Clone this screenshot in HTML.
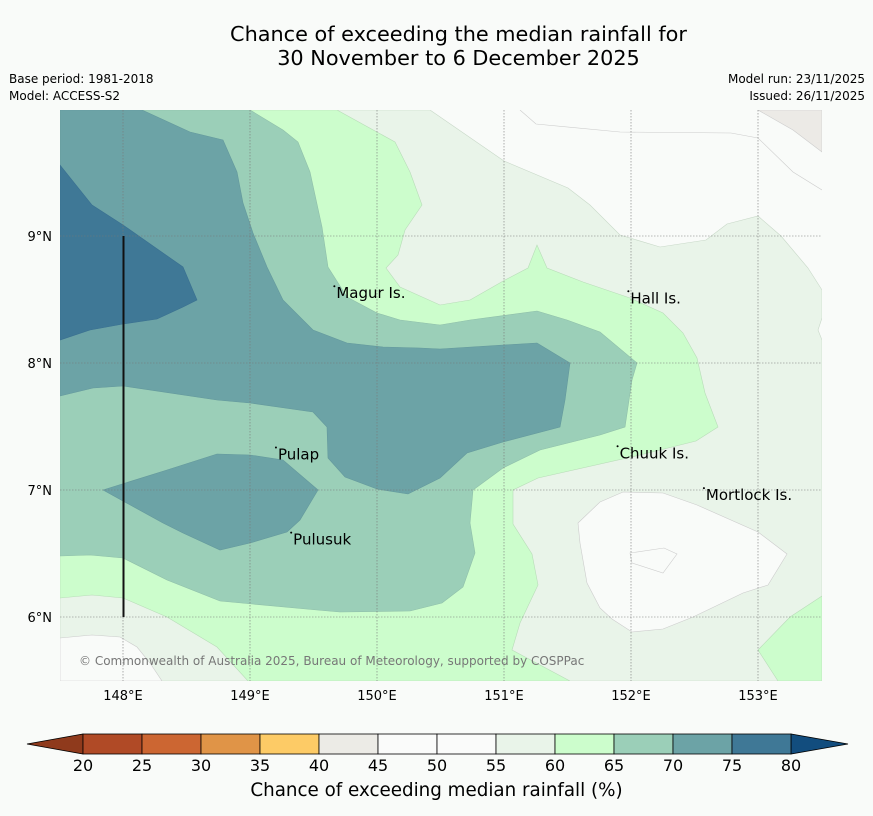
<!DOCTYPE html>
<html><head><meta charset="utf-8">
<style>
body{margin:0;background:#f9fbf9;font-family:"DejaVu Sans","Liberation Sans",sans-serif;}
#wrap{position:relative;width:873px;height:816px;overflow:hidden;background:#f9fbf9;}
.t{position:absolute;white-space:nowrap;color:#000;}
</style></head>
<body>
<div id="wrap">
<div class="t" style="left:0;width:917px;top:22px;text-align:center;font-size:20.8px;line-height:24px;">Chance of exceeding the median rainfall for<br>30 November to 6 December 2025</div>
<div class="t" style="left:9px;top:72px;font-size:12px;">Base period: 1981-2018</div>
<div class="t" style="left:9px;top:89px;font-size:12px;">Model: ACCESS-S2</div>
<div class="t" style="right:8px;top:72px;font-size:12px;">Model run: 23/11/2025</div>
<div class="t" style="right:8px;top:89px;font-size:12px;">Issued: 26/11/2025</div>
<svg id="svg" width="873" height="816" style="position:absolute;left:0;top:0">
<defs><clipPath id="mc"><rect x="60" y="110" width="762" height="571"/></clipPath></defs>
<g clip-path="url(#mc)" stroke-width="0.6">
<rect x="60" y="110" width="762" height="571" fill="#f9fbf9"/>
<polygon fill="#eceae6" stroke="#ccc" points="758,110 822,110 822,152 793,130"/>
<polyline fill="none" stroke="#ccc" points="520,110 536,124 620,132 731,133 758,138 793,172 822,190"/>
<polygon fill="#e9f4e9" stroke="#c8d8c8" points="60,110 430,110 504,161 568,188 590,205 620,235 660,247 706,240 727,224 758,216 781,236 808,268 822,290 822,318 818,330 822,340 822,681 60,681"/>
<polygon fill="#f9fbf9" stroke="#ccc" points="60,638 92,635 120,637 137,647 150,663 162,681 60,681"/>
<polygon fill="#f9fbf9" stroke="#ccc" points="578,523 600,502 623,492 663,493 697,505 758,532 787,554 768,585 743,593 693,617 663,629 632,632 612,619 600,608 587,583 580,543"/>
<polygon fill="none" stroke="#ccc" points="630,553 664,548 677,554 663,573 632,563"/>
<polygon fill="#ccfdcc" stroke="#b8dcb8" points="758,650 790,617 822,596 822,681 778,681"/>
<polygon fill="#ccfdcc" stroke="#b8dcb8" points="60,110 337,110 395,142 410,172 422,205 405,230 398,255 386,268 400,287 440,305 470,300 505,280 528,268 537,245 547,268 583,282 630,298 663,313 683,333 697,358 705,393 718,427 696,441 640,455 538,478 513,490 513,524 532,554 538,585 520,623 512,650 570,681 248,681 217,647 167,617 123,598 92,595 60,598"/>
<polygon fill="#9bcfb8" stroke="#8fbfa9" points="60,110 250,110 283,130 298,142 310,172 322,227 328,267 347,297 377,313 400,320 440,325 470,320 537,311 567,320 600,332 637,363 632,380 625,427 600,435 540,450 503,468 473,490 470,523 475,553 463,587 442,603 410,611 340,612 317,610 220,601 167,580 123,558 90,555 60,556"/>
<polygon fill="#6ca3a6" stroke="#64999c" points="60,110 142,110 190,132 223,140 237,172 243,203 253,233 267,267 283,300 313,330 347,343 383,347 420,348 440,349 537,343 570,363 565,400 560,427 503,442 467,453 440,478 408,494 377,489 345,477 328,458 327,427 313,412 250,403 217,400 123,386 93,388 60,396"/>
<polygon fill="#6ca3a6" stroke="#64999c" points="103,490 167,470 217,454 250,455 283,460 318,490 300,520 287,532 250,543 220,550 183,533 163,523"/>
<polygon fill="#3f7896" stroke="#3a7090" points="60,165 92,205 123,225 183,267 197,300 183,307 157,319 123,324 90,330 60,340"/>
<g id="grid"></g>
<line x1="123.5" y1="236" x2="123.5" y2="617" stroke="#111" stroke-width="2"/>
<text x="79" y="665" font-size="12" fill="#777" font-family="DejaVu Sans, Liberation Sans, sans-serif">© Commonwealth of Australia 2025, Bureau of Meteorology, supported by COSPPac</text>
</g>
<g id="labels" font-family="DejaVu Sans, Liberation Sans, sans-serif" font-size="15" fill="#000"></g>
<g id="axes" font-family="DejaVu Sans, Liberation Sans, sans-serif" font-size="13" fill="#000"></g>
<g id="cbar"></g>
</svg>
<div class="t" style="left:0;width:873px;text-align:center;top:780px;font-size:18.3px;">Chance of exceeding median rainfall (%)</div>
</div>
<script>
const lonTicks=[148,149,150,151,152,153];
const latTicks=[9,8,7,6];
const cbLevels=[20,25,30,35,40,45,50,55,60,65,70,75,80];
const cbColors=["#b04a26","#cc6632","#e09447","#fdcb66","#ecebe6","#fafbfa","#fafbfa","#e9f4e9","#ccfdcc","#9bcfb8","#6ca3a6","#3f7896"];
const cbUnder="#8f3a1c", cbOver="#124d7e";
const places=["Magur Is.","Hall Is.","Pulap","Chuuk Is.","Mortlock Is.","Pulusuk"];
const placeLon=[149.68,151.995,149.22,151.91,152.59,149.34];
const placeLat=[8.51,8.47,7.24,7.25,6.92,6.57];

const NS='http://www.w3.org/2000/svg';
const xLon=l=>123+(l-148)*127, yLat=a=>236+(9-a)*127;
function mk(tag,at,parent){const e=document.createElementNS(NS,tag);for(const k in at)e.setAttribute(k,at[k]);parent.appendChild(e);return e;}
const grid=document.getElementById('grid'), axes=document.getElementById('axes'), lab=document.getElementById('labels'), cb=document.getElementById('cbar');
lonTicks.forEach(l=>{
  const ln=mk('line',{x1:xLon(l),x2:xLon(l),y1:110,y2:681,stroke:'#777','stroke-width':0.6,'stroke-dasharray':'1.5,1.5'},grid);
  
  
  const t=mk('text',{x:xLon(l),y:700,'text-anchor':'middle'},axes);t.textContent=l+'°E';
  
  
});
latTicks.forEach(a=>{
  const ln=mk('line',{x1:60,x2:822,y1:yLat(a),y2:yLat(a),stroke:'#777','stroke-width':0.6,'stroke-dasharray':'1.5,1.5'},grid);
  
  
  const t=mk('text',{x:52,y:yLat(a)+5,'text-anchor':'end'},axes);t.textContent=a+'°N';
  
  
});
places.forEach((p,i)=>{
  const x=xLon(placeLon[i]), y=yLat(placeLat[i]);
  const d=mk('circle',{cx:x-2,cy:y-12,r:1,fill:'#000'},lab);
  
  
  const t=mk('text',{x:x,y:y},lab);t.textContent=p;
  
  
});
const cx0=83, cx1=791, cy=734, ch=20, step=(cx1-cx0)/(cbLevels.length-1);
const tu=mk('polygon',{points:`${cx0},${cy} ${cx0},${cy+ch} 27,${cy+ch/2}`,fill:cbUnder,stroke:'#000','stroke-width':0.8},cb);


const to=mk('polygon',{points:`${cx1},${cy} ${cx1},${cy+ch} 848,${cy+ch/2}`,fill:cbOver,stroke:'#000','stroke-width':0.8},cb);


cbColors.forEach((c,i)=>{
  const r=mk('rect',{x:cx0+i*step,y:cy,width:step,height:ch,fill:c,stroke:'#000','stroke-width':0.8},cb);
  
  
});
cbLevels.forEach((v,i)=>{
  const t=mk('text',{x:cx0+i*step,y:771,'text-anchor':'middle','font-size':16,'font-family':'DejaVu Sans, Liberation Sans, sans-serif'},cb);
  t.textContent=v;
  
  
});
</script>
</body></html>
